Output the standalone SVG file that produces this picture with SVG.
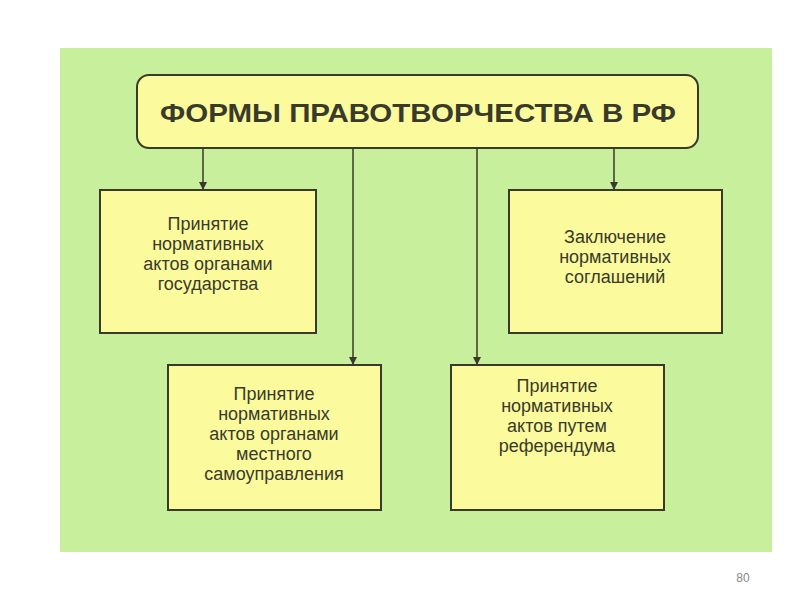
<svg xmlns="http://www.w3.org/2000/svg" width="800" height="600" viewBox="0 0 800 600">
<style>
.box{fill:#fbfa9c;stroke:#3a3a2a;stroke-width:2}
.t{font-family:"Liberation Sans",Arial,sans-serif;font-size:18px;fill:#3a3a2a;text-anchor:middle}
.c{stroke:#3a3a2a;stroke-width:1.5;fill:none;marker-end:url(#a)}
</style>
<defs><marker id="a" markerWidth="8" markerHeight="10" refX="7" refY="4" orient="auto" markerUnits="userSpaceOnUse"><path d="M0,0 L8,4 L0,8 Z" fill="#3a3a2a"/></marker></defs>
<rect width="800" height="600" fill="#fff"/>
<rect x="60" y="48" width="712" height="504" fill="#c8f09c"/>
<g id="connectors">
<line class="c" x1="203" y1="148" x2="203" y2="189"/>
<line class="c" x1="353" y1="148" x2="353" y2="364"/>
<line class="c" x1="477" y1="148" x2="477" y2="364"/>
<line class="c" x1="614" y1="148" x2="614" y2="189"/>
</g>
<g id="title"><rect class="box" x="137" y="75" width="561" height="73" rx="12"/>
<text class="t" x="418" y="122" textLength="516" lengthAdjust="spacingAndGlyphs" style="font-size:25px;font-weight:bold">ФОРМЫ  ПРАВОТВОРЧЕСТВА  В  РФ</text></g>
<g id="n1"><rect class="box" x="100" y="190" width="216" height="143"/>
<text class="t" x="208" y="230">Принятие</text><text class="t" x="208" y="250">нормативных</text><text class="t" x="208" y="270">актов органами</text><text class="t" x="208" y="290">государства</text></g>
<g id="n2"><rect class="box" x="509" y="190" width="213" height="143"/>
<text class="t" x="615" y="243">Заключение</text><text class="t" x="615" y="263">нормативных</text><text class="t" x="615" y="283">соглашений</text></g>
<g id="n3"><rect class="box" x="168" y="365" width="213" height="145"/>
<text class="t" x="274" y="400">Принятие</text><text class="t" x="274" y="420">нормативных</text><text class="t" x="274" y="440">актов органами</text><text class="t" x="274" y="460">местного</text><text class="t" x="274" y="480">самоуправления</text></g>
<g id="n4"><rect class="box" x="451" y="365" width="213" height="145"/>
<text class="t" x="557" y="392">Принятие</text><text class="t" x="557" y="412">нормативных</text><text class="t" x="557" y="432">актов путем</text><text class="t" x="557" y="452">референдума</text></g>
<text x="743" y="582" style="font-family:'Liberation Sans',Arial,sans-serif;font-size:12px;fill:#888;text-anchor:middle">80</text>
</svg>
